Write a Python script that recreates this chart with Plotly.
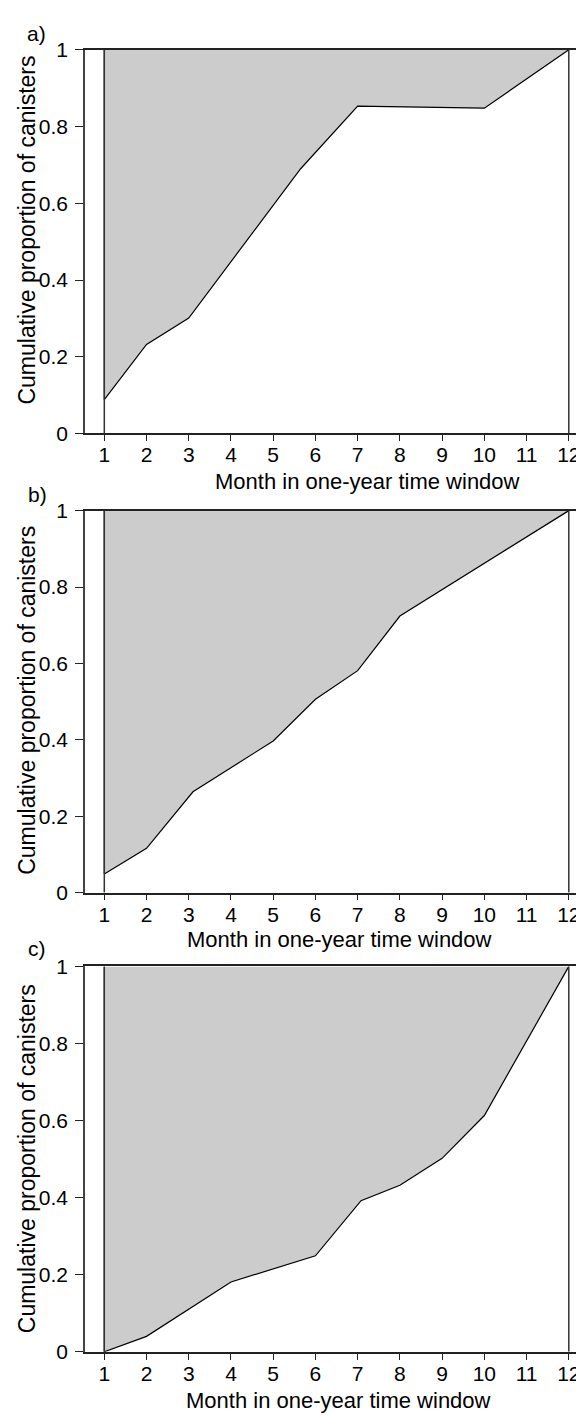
import plotly.graph_objects as go

# ---- data ----
months_a = [1, 2, 3, 5.65, 7, 10, 12]
prop_a = [0.088, 0.232, 0.301, 0.69, 0.853, 0.848, 1.0]

months_b = [1, 2, 3.1, 5, 6, 7, 8, 12]
prop_b = [0.049, 0.116, 0.264, 0.397, 0.506, 0.581, 0.724, 1.0]

months_c = [1, 2, 4, 6, 7.08, 8, 9, 10, 12]
prop_c = [0.0, 0.04, 0.181, 0.249, 0.392, 0.432, 0.502, 0.613, 1.0]

x_ticks = list(range(1, 13))
y_ticks = [0, 0.2, 0.4, 0.6, 0.8, 1]
y_ticktext = ["0", "0.2", "0.4", "0.6", "0.8", "1"]
panel_labels = ["a)", "b)", "c)"]
x_title = "Month in one-year time window"
y_title = "Cumulative proportion of canisters"

# ---- layout geometry (window pixels; page body has an 8px margin) ----
OFF = 8
W, H = 584 - OFF, 1427 - OFF
FONT = "Liberation Sans, Arial, Helvetica, sans-serif"
panels_px = [(38.3, 428.3), (506.7, 895.0), (970.0, 1361.7)]  # (top, bottom)
xtitle_px = [(367, 477), (339, 943), (338, 1411)]
ytitle_cy = [222, 700, 1166]
label_px = [(36, 22), (37, 490), (37, 952)]
x_left_px = 85


def fx(p):
    return (p - OFF) / W


def fy(p):
    return 1 - (p - OFF) / H


fig = go.Figure()
series = [(months_a, prop_a), (months_b, prop_b), (months_c, prop_c)]

for i, ((mx, pv), (top, bot)) in enumerate(zip(series, panels_px)):
    n = "" if i == 0 else str(i + 1)
    xa, ya = "x" + n, "y" + n
    # gray area between y=1 and the cumulative curve
    fig.add_trace(go.Scatter(
        x=[mx[0]] + list(mx), y=[1] + list(pv),
        mode="lines", fill="toself", fillcolor="#cccccc",
        line=dict(color="black", width=1.2),
        xaxis=xa, yaxis=ya, showlegend=False, hoverinfo="skip"))
    # vertical bounding lines at first and last month
    for xv in (x_ticks[0], x_ticks[-1]):
        fig.add_shape(type="line", xref=xa, yref=ya, x0=xv, x1=xv, y0=0, y1=1,
                      line=dict(color="#333333", width=1.5))
    fig.update_layout(**{
        "xaxis" + n: dict(
            domain=[fx(x_left_px), 1], range=[0.543, 12.36], anchor=ya,
            tickvals=x_ticks, ticks="outside", ticklen=6, tickwidth=1.3,
            tickcolor="#222222", showline=True, linecolor="#222222",
            linewidth=1.5, mirror=True, showgrid=False, zeroline=False,
            ticklabelstandoff=-4,
            tickfont=dict(family=FONT, size=21, color="black")),
        "yaxis" + n: dict(
            domain=[fy(bot), fy(top)], range=[0, 1], anchor=xa,
            tickvals=y_ticks, ticktext=y_ticktext, ticks="outside",
            ticklen=8, tickwidth=1.3, tickcolor="#222222",
            showline=True, linecolor="#444444", linewidth=1.5,
            showgrid=False, zeroline=False, ticklabelstandoff=3,
            tickfont=dict(family=FONT, size=21, color="black")),
    })
    # panel label
    fig.add_annotation(x=fx(label_px[i][0]), y=fy(label_px[i][1]),
                       xref="paper", yref="paper", xanchor="center",
                       yanchor="middle", text=panel_labels[i],
                       showarrow=False,
                       font=dict(family=FONT, size=21, color="black"))
    # x title
    fig.add_annotation(x=fx(xtitle_px[i][0]), y=fy(xtitle_px[i][1]),
                       xref="paper", yref="paper", xanchor="center",
                       yanchor="middle", text=x_title, showarrow=False,
                       font=dict(family=FONT, size=22, color="black"))
    # y title
    fig.add_annotation(x=fx(27), y=fy(ytitle_cy[i]), xref="paper",
                       yref="paper", xanchor="center", yanchor="middle",
                       text=y_title, textangle=-90, showarrow=False,
                       font=dict(family=FONT, size=23, color="black"))

fig.update_layout(width=W, height=H, margin=dict(l=0, r=0, t=0, b=0),
                  paper_bgcolor="white", plot_bgcolor="white",
                  showlegend=False)

fig.write_html("out.html")
